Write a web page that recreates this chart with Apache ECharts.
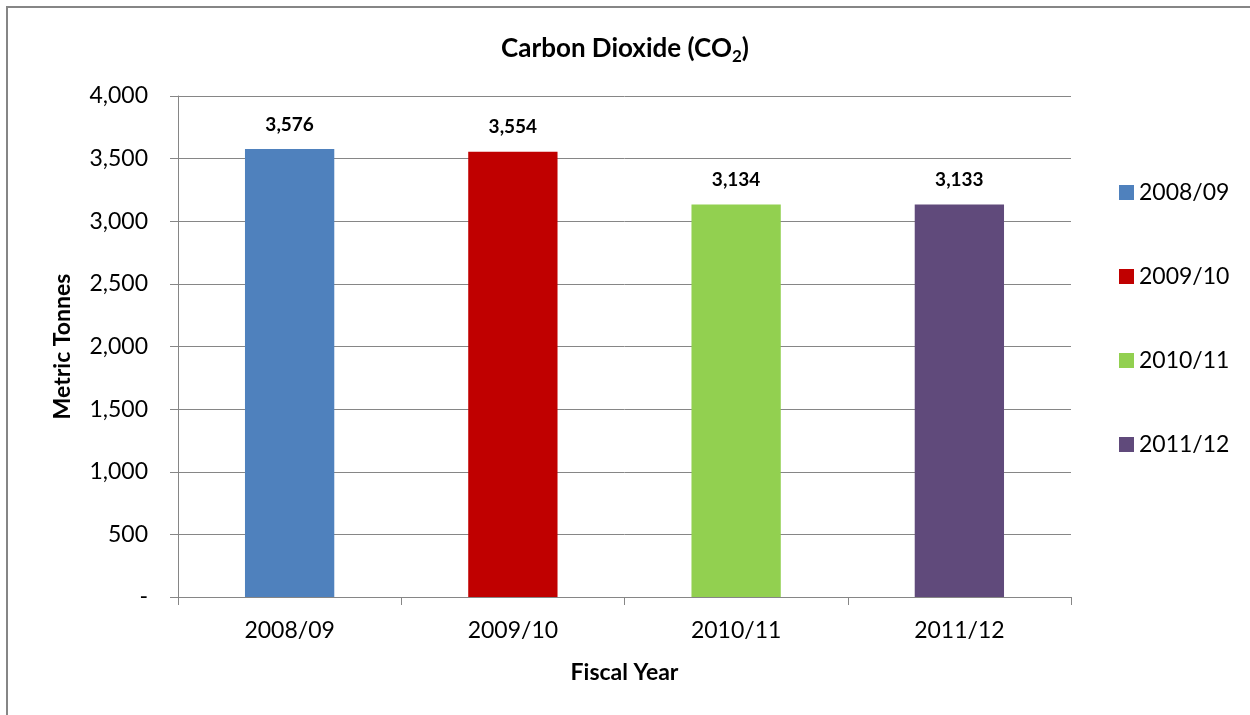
<!DOCTYPE html>
<html>
<head>
<meta charset="utf-8">
<script src="https://cdn.jsdelivr.net/npm/echarts@6/dist/echarts.min.js"></script>
<style>
  html, body { margin: 0; padding: 0; background: #fff; }
  #chart { width: 1250px; height: 715px; }
</style>
</head>
<body>
<div id="chart"></div>
<script>
// Fiscal years and CO2 emissions (metric tonnes)
const fiscalYears = ['2008/09', '2009/10', '2010/11', '2011/12'];
const co2Tonnes = [3576, 3554, 3134, 3133];
const barColors = ['#4F81BD', '#C00000', '#92D050', '#604A7B'];
const yTicks = { min: 0, max: 4000, interval: 500 };

const FONT = 'Lato, "Open Sans", sans-serif';
const GRID_GRAY = '#868686';

function fmtThousands(v) {
  if (v === 0) return '-';
  return v.toString().replace(/\B(?=(\d{3})+(?!\d))/g, ',');
}

// One series per fiscal year so each gets its own legend entry;
// stacking keeps every bar centred in its category.
const series = fiscalYears.map((fy, i) => ({
  name: fy,
  type: 'bar',
  stack: 'years',
  barWidth: '40%',
  itemStyle: { color: barColors[i] },
  label: {
    show: true,
    position: 'top',
    distance: 15,
    fontFamily: FONT,
    fontSize: 19,
    fontWeight: 'bold',
    color: '#000',
    formatter: p => fmtThousands(p.value)
  },
  data: fiscalYears.map((_, j) => (j === i ? co2Tonnes[i] : '-'))
}));

const chart = echarts.init(document.getElementById('chart'));
chart.setOption({
  animation: false,
  backgroundColor: '#fff',
  textStyle: { fontFamily: FONT },
  title: {
    left: 'center',
    top: 28,
    text: '{t|Carbon Dioxide (CO}{sub|2}{t|)}',
    textStyle: {
      rich: {
        t: {
          fontFamily: FONT,
          fontSize: 26,
          fontWeight: 'bold',
          color: '#000',
          lineHeight: 32
        },
        sub: {
          fontFamily: FONT,
          fontSize: 17,
          fontWeight: 'bold',
          color: '#000',
          lineHeight: 32,
          padding: [16, 0, 0, 0]
        }
      }
    }
  },
  graphic: [{
    type: 'rect',
    shape: { x: 7, y: 7, width: 1260, height: 720 },
    style: { fill: 'none', stroke: GRID_GRAY, lineWidth: 2 },
    silent: true
  }],
  legend: {
    orient: 'vertical',
    left: 1114,
    top: 176,
    itemWidth: 15,
    itemHeight: 15,
    itemGap: 61,
    icon: 'rect',
    textStyle: { fontFamily: FONT, fontSize: 23, color: '#000' },
    data: fiscalYears
  },
  grid: { left: 178, right: 179, top: 96, bottom: 118 },
  xAxis: {
    type: 'category',
    data: fiscalYears,
    name: 'Fiscal Year',
    nameLocation: 'middle',
    nameGap: 64,
    nameTextStyle: { fontFamily: FONT, fontSize: 23, fontWeight: 'bold', color: '#000' },
    axisLine: { lineStyle: { color: GRID_GRAY, width: 1 } },
    axisTick: { show: true, length: 8, lineStyle: { color: GRID_GRAY } },
    axisLabel: { margin: 22, fontFamily: FONT, fontSize: 23, color: '#000' }
  },
  yAxis: {
    type: 'value',
    min: yTicks.min,
    max: yTicks.max,
    interval: yTicks.interval,
    name: 'Metric Tonnes',
    nameLocation: 'middle',
    nameGap: 104,
    nameTextStyle: { fontFamily: FONT, fontSize: 23, fontWeight: 'bold', color: '#000' },
    axisLine: { show: true, lineStyle: { color: GRID_GRAY, width: 1 } },
    axisTick: { show: true, length: 8, lineStyle: { color: GRID_GRAY } },
    splitLine: { lineStyle: { color: GRID_GRAY, width: 1 } },
    axisLabel: {
      margin: 30,
      fontFamily: FONT,
      fontSize: 23,
      color: '#000',
      formatter: fmtThousands
    }
  },
  series: series
});
</script>
</body>
</html>
